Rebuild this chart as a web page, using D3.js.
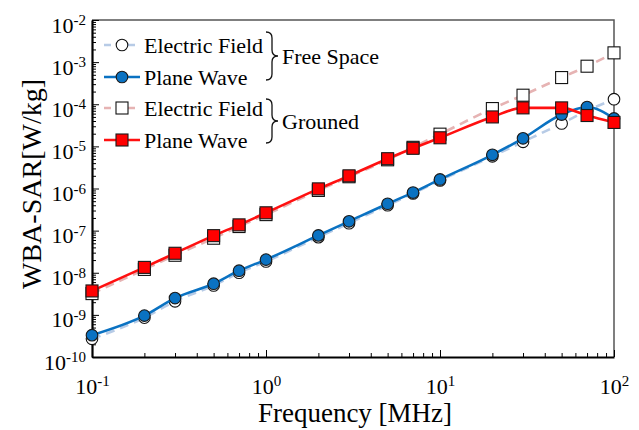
<!DOCTYPE html>
<html>
<head>
<meta charset="utf-8">
<script src="https://cdn.jsdelivr.net/npm/d3@7"></script>
<style>
  body { margin: 0; background: #fff; }
  svg { display: block; }
  svg text { font-family: "Liberation Serif", "Tinos", "DejaVu Serif", serif; }
</style>
</head>
<body>
<div class="graph"></div>
<script>
// frequencies [MHz]
const freqs = [0.1, 0.2, 0.3, 0.5, 0.7, 1, 2, 3, 5, 7, 10, 20, 30, 50, 70, 100];
// WBA-SAR [W/kg]
const efFree = [2.7e-10, 8.6e-10, 2.1e-9, 5.0e-9, 1.0e-8, 1.85e-8, 7.0e-8, 1.5e-7, 4.0e-7, 7.6e-7, 1.55e-6, 5.8e-6, 1.28e-5, 3.5e-5, 7.0e-5, 1.32e-4];
const pwFree = [3.3e-10, 9.6e-10, 2.5e-9, 5.5e-9, 1.12e-8, 2.05e-8, 7.7e-8, 1.66e-7, 4.35e-7, 8.0e-7, 1.64e-6, 6.3e-6, 1.55e-5, 5.7e-5, 8.6e-5, 4.6e-5];
const efGround = [3.2e-9, 1.2e-8, 2.6e-8, 6.6e-8, 1.25e-7, 2.4e-7, 9.0e-7, 1.9e-6, 4.8e-6, 9.5e-6, 1.95e-5, 7.9e-5, 1.64e-4, 4.3e-4, 8.0e-4, 1.66e-3];
const pwGround = [3.7e-9, 1.34e-8, 2.9e-8, 7.6e-8, 1.37e-7, 2.65e-7, 9.8e-7, 2.0e-6, 5.1e-6, 9.0e-6, 1.6e-5, 5.0e-5, 8.2e-5, 8.2e-5, 5.4e-5, 3.7e-5];

const xTicks = [0.1, 1, 10, 100];
const yTicks = [1e-10, 1e-9, 1e-8, 1e-7, 1e-6, 1e-5, 1e-4, 1e-3, 1e-2];

const W = 639, H = 430;
const pl = 92, pr = 614, pt = 20, pb = 357;

const x = d3.scaleLog().domain([0.1, 100]).range([pl, pr]);
const y = d3.scaleLog().domain([1e-10, 1e-2]).range([pb, pt]);

const svg = d3.select(".graph").append("svg")
    .attr("width", W)
    .attr("height", H);

function minors(lo, hi) {
    const out = [];
    for (let e = lo; e < hi; e++) {
        for (let m = 2; m <= 9; m++) out.push(m * Math.pow(10, e));
    }
    return out;
}

function expLabel(sel) {
    sel.each(function (d) {
        const t = d3.select(this);
        const e = Math.round(Math.log10(d));
        t.text(null);
        t.append("tspan").text("10");
        t.append("tspan").attr("dy", "-0.5em").attr("font-size", "15px").text(e);
    });
}

// frame (top/right)
svg.append("path")
    .attr("d", `M${pl},${pt}H${pr}V${pb}`)
    .attr("fill", "none")
    .attr("stroke", "#555")
    .attr("stroke-width", 1.5);

// minor ticks
svg.append("g")
    .attr("transform", "translate(0," + pb + ")")
    .call(d3.axisBottom(x).tickValues(minors(-1, 2)).tickSize(-4).tickFormat(""))
    .call(g => g.select(".domain").remove());
svg.append("g")
    .attr("transform", "translate(" + pl + ",0)")
    .call(d3.axisLeft(y).tickValues(minors(-10, -2)).tickSize(-4).tickFormat(""))
    .call(g => g.select(".domain").remove());

// major axes
const gx = svg.append("g")
    .attr("transform", "translate(0," + pb + ")")
    .call(d3.axisBottom(x).tickValues(xTicks).tickSize(-7).tickSizeOuter(0).tickPadding(21));
gx.attr("font-family", null);
gx.select(".domain").attr("stroke-width", 2.2);
gx.selectAll(".tick text")
    .attr("font-size", "22px")
    .attr("fill", "#000")
    .call(expLabel);

const gy = svg.append("g")
    .attr("transform", "translate(" + pl + ",0)")
    .call(d3.axisLeft(y).tickValues(yTicks).tickSize(-7).tickSizeOuter(0).tickPadding(6));
gy.attr("font-family", null);
gy.select(".domain").attr("stroke-width", 2.2);
gy.selectAll(".tick text")
    .attr("font-size", "22px")
    .attr("fill", "#000")
    .attr("dy", "0.55em")
    .call(expLabel);

// axis titles
svg.append("text")
    .attr("x", 355)
    .attr("y", 422)
    .attr("text-anchor", "middle")
    .attr("font-size", "27px")
    .attr("fill", "#000")
    .text("Frequency [MHz]");

svg.append("text")
    .attr("transform", "translate(41,184) rotate(-90)")
    .attr("text-anchor", "middle")
    .attr("font-size", "28px")
    .attr("fill", "#000")
    .text("WBA-SAR[W/kg]");

// series
const series = [
    { vals: efFree, color: "#b7cbe6", dash: "9,6", marker: "circle", fill: "#fff", stroke: "#111" },
    { vals: efGround, color: "#e6b3b3", dash: "9,6", marker: "square", fill: "#fff", stroke: "#111" },
    { vals: pwFree, color: "#0a72c2", dash: null, marker: "circle", fill: "#0a72c2", stroke: "#1a1a1a" },
    { vals: pwGround, color: "#ff1010", dash: null, marker: "square", fill: "#ff0000", stroke: "#1a1a1a" }
];

const line = d3.line()
    .x(function (d) { return x(d.f); })
    .y(function (d) { return y(d.v); })
    .curve(d3.curveMonotoneX);

function drawMarker(g, kind, cx, cy, fill, stroke) {
    if (kind === "circle") {
        g.append("circle").attr("cx", cx).attr("cy", cy).attr("r", 5.8)
            .attr("fill", fill).attr("stroke", stroke).attr("stroke-width", 1.1);
    } else {
        g.append("rect").attr("x", cx - 6).attr("y", cy - 6).attr("width", 12).attr("height", 12)
            .attr("fill", fill).attr("stroke", stroke).attr("stroke-width", 1.1);
    }
}

series.forEach(function (s) {
    const data = freqs.map(function (f, i) { return { f: f, v: s.vals[i] }; });
    const g = svg.append("g");
    g.append("path")
        .datum(data)
        .attr("d", line)
        .attr("fill", "none")
        .attr("stroke", s.color)
        .attr("stroke-width", 2.6)
        .attr("stroke-dasharray", s.dash);
    data.forEach(function (d) {
        drawMarker(g, s.marker, x(d.f), y(d.v), s.fill, s.stroke);
    });
});

// legend
const rows = [
    { s: series[0], label: "Electric Field", y: 45 },
    { s: series[2], label: "Plane Wave", y: 77 },
    { s: series[1], label: "Electric Field", y: 108 },
    { s: series[3], label: "Plane Wave", y: 140 }
];
const lg = svg.append("g");
rows.forEach(function (r) {
    lg.append("line")
        .attr("x1", 104).attr("x2", 140)
        .attr("y1", r.y).attr("y2", r.y)
        .attr("stroke", r.s.color)
        .attr("stroke-width", 2.6)
        .attr("stroke-dasharray", r.s.dash ? "7,5" : null);
    drawMarker(lg, r.s.marker, 122, r.y, r.s.fill, r.s.stroke);
    lg.append("text")
        .attr("x", 144)
        .attr("y", r.y + 7.5)
        .attr("font-size", "22px")
        .attr("fill", "#000")
        .text(r.label);
});

function brace(y0, y1, xb) {
    const m = (y0 + y1) / 2;
    return `M${xb - 4},${y0} Q${xb + 2},${y0} ${xb + 2},${y0 + 6} L${xb + 2},${m - 6} Q${xb + 2},${m} ${xb + 8},${m}` +
        ` Q${xb + 2},${m} ${xb + 2},${m + 6} L${xb + 2},${y1 - 6} Q${xb + 2},${y1} ${xb - 4},${y1}`;
}
[[32, 80, "Free Space"], [99, 143, "Grouned"]].forEach(function (b) {
    lg.append("path")
        .attr("d", brace(b[0], b[1], 270))
        .attr("fill", "none")
        .attr("stroke", "#111")
        .attr("stroke-width", 1.3);
    lg.append("text")
        .attr("x", 282)
        .attr("y", (b[0] + b[1]) / 2 + 8)
        .attr("font-size", "22px")
        .attr("fill", "#000")
        .text(b[2]);
});
</script>
</body>
</html>
